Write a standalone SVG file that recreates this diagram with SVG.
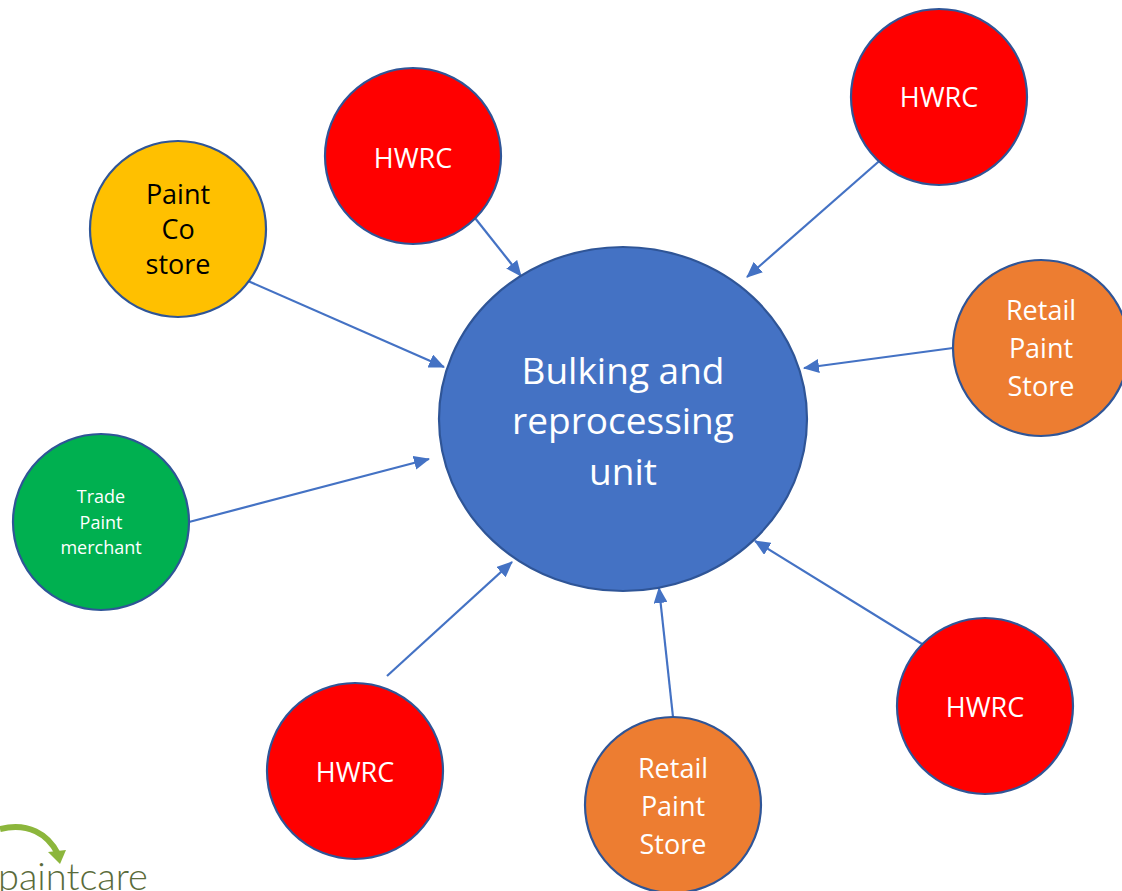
<svg xmlns="http://www.w3.org/2000/svg" width="1122" height="891" viewBox="0 0 1122 891">
<style>
text{font-family:"Open Sans","Noto Sans",sans-serif;text-anchor:middle;fill:#fff}
.n{stroke:#2f5597;stroke-width:2.2}
.t{font-size:27px}
.k{fill:#000}
.l{stroke:#4472c4;stroke-width:2.2;fill:none;marker-end:url(#a)}
</style>
<defs><marker id="a" markerUnits="userSpaceOnUse" markerWidth="16" markerHeight="14" refX="15" refY="7" orient="auto"><path d="M0 0L16 7L0 14Z" fill="#4472c4"/></marker></defs>
<rect width="1122" height="891" fill="#fff"/>
<g id="connectors">
<path class="l" d="M475 218L521 276"/>
<path class="l" d="M885 156L747 277"/>
<path class="l" d="M953 348L804 368"/>
<path class="l" d="M248 281L444 367"/>
<path class="l" d="M189 522L429 459"/>
<path class="l" d="M387 676L512 562"/>
<path class="l" d="M673 717L659 588"/>
<path class="l" d="M922 644L755 541"/>
</g>
<g id="hub"><ellipse class="n" cx="623" cy="419" rx="184" ry="172" fill="#4472c4"/>
<text x="623" y="384" font-size="37">Bulking and</text><text x="623" y="434" font-size="37">reprocessing</text><text x="623" y="485" font-size="37">unit</text></g>
<g id="hwrc1"><circle class="n" cx="413" cy="156" r="88" fill="#f00"/><text class="t" x="413" y="168">HWRC</text></g>
<g id="hwrc2"><circle class="n" cx="939" cy="97" r="88" fill="#f00"/><text class="t" x="939" y="107">HWRC</text></g>
<g id="paintco"><circle class="n" cx="178" cy="229" r="88" fill="#ffc000" stroke-width="2.2"/><text class="t k" x="178" y="204">Paint</text><text class="t k" x="178" y="239">Co</text><text class="t k" x="178" y="274">store</text></g>
<g id="retail1"><circle class="n" cx="1041" cy="348" r="88" fill="#ed7d31"/><text class="t" x="1041" y="320">Retail</text><text class="t" x="1041" y="358">Paint</text><text class="t" x="1041" y="396">Store</text></g>
<g id="trade"><circle class="n" cx="101" cy="522" r="88" fill="#00b050"/><text x="101" y="503" font-size="18">Trade</text><text x="101" y="529" font-size="18">Paint</text><text x="101" y="554" font-size="18">merchant</text></g>
<g id="hwrc3"><circle class="n" cx="355" cy="771" r="88" fill="#f00"/><text class="t" x="355" y="782">HWRC</text></g>
<g id="retail2"><circle class="n" cx="673" cy="805" r="88" fill="#ed7d31"/><text class="t" x="673" y="778">Retail</text><text class="t" x="673" y="816">Paint</text><text class="t" x="673" y="854">Store</text></g>
<g id="hwrc4"><circle class="n" cx="985" cy="706" r="88" fill="#f00"/><text class="t" x="985" y="717">HWRC</text></g>
<g id="logo"><path d="M0 829C28 822 48 834 58 854" fill="none" stroke="#8cb63c" stroke-width="6"/><path d="M48 852L66 850L60 864Z" fill="#8cb63c"/>
<text x="-2" y="890" font-size="38" style="text-anchor:start;fill:#5a6b3a;font-family:'Lato',sans-serif;font-weight:300">paintcare</text></g>
</svg>
